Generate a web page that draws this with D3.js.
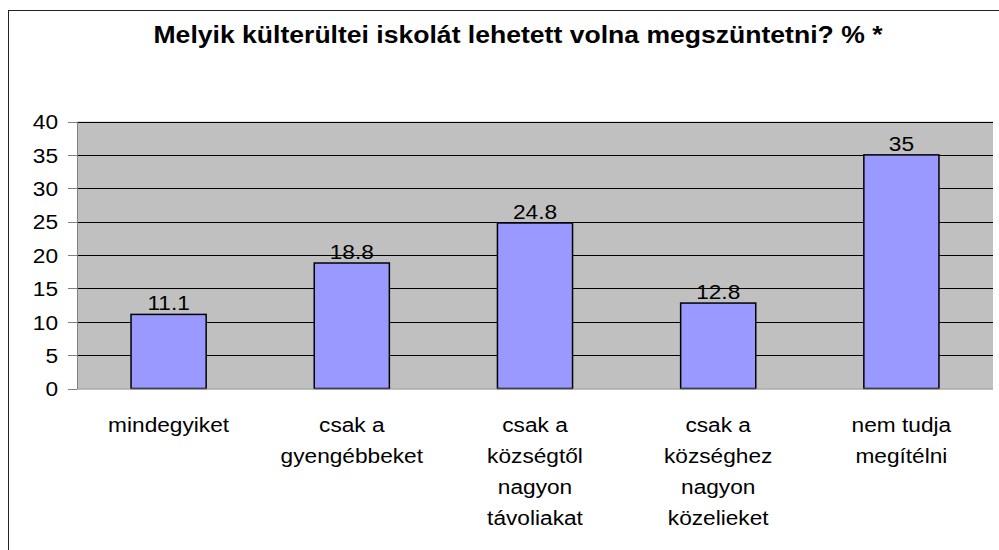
<!DOCTYPE html>
<html>
<head>
<meta charset="utf-8">
<script src="https://cdn.jsdelivr.net/npm/d3@7"></script>
<style>
  body { margin: 0; background: #fff; }
  svg text { font-family: "Liberation Sans", Arial, sans-serif; fill: #000; }
  .axis path, .axis line { stroke: #808080; shape-rendering: crispEdges; }
  .grid line { stroke: #000; shape-rendering: crispEdges; }
</style>
</head>
<body>
<svg id="chart" width="999" height="550"></svg>
<script>
var title = "Melyik külterültei iskolát lehetett volna megszüntetni? % *";
var categories = [
  ["mindegyiket"],
  ["csak a", "gyengébbeket"],
  ["csak a", "községtől", "nagyon", "távoliakat"],
  ["csak a", "községhez", "nagyon", "közelieket"],
  ["nem tudja", "megítélni"]
];
var values = [11.1, 18.8, 24.8, 12.8, 35];
var yTicks = [0, 5, 10, 15, 20, 25, 30, 35, 40];

var margin = {top: 121.5, left: 77, right: 6, bottom: 161.5};
var width = 999 - margin.left - margin.right;
var height = 550 - margin.top - margin.bottom;
var sx = 1.08; // the original text is stretched sideways

var svg = d3.select("#chart");

// outer chart frame (runs off the right and bottom of the picture)
svg.append("rect")
  .attr("x", 8.5).attr("y", 10.5)
  .attr("width", 1100).attr("height", 700)
  .attr("fill", "#fff").attr("stroke", "#222").attr("stroke-width", 1);

svg.append("text")
  .attr("x", 518).attr("y", 43)
  .attr("text-anchor", "middle")
  .attr("font-weight", "bold")
  .attr("font-size", 23)
  .attr("textLength", 729)
  .attr("lengthAdjust", "spacingAndGlyphs")
  .text(title);

var g = svg.append("g")
  .attr("transform", "translate(" + margin.left + "," + margin.top + ")");

var x = d3.scaleBand()
  .domain(d3.range(values.length))
  .range([0, width])
  .paddingInner(0.59)
  .paddingOuter(0.295);

var y = d3.scaleLinear()
  .domain([0, 40])
  .range([height, 0]);

g.append("rect")
  .attr("width", width).attr("height", height)
  .attr("fill", "#c0c0c0");

g.append("g")
  .attr("class", "grid")
  .selectAll("line")
  .data(yTicks.slice(1))
  .enter().append("line")
  .attr("x1", 0).attr("x2", width)
  .attr("y1", function (d) { return y(d) + 0.5; })
  .attr("y2", function (d) { return y(d) + 0.5; });

g.selectAll(".bar")
  .data(values)
  .enter().append("rect")
  .attr("class", "bar")
  .attr("x", function (d, i) { return x(i); })
  .attr("y", function (d) { return y(d); })
  .attr("width", x.bandwidth())
  .attr("height", function (d) { return height - y(d); })
  .attr("fill", "#9999ff")
  .attr("stroke", "#000")
  .attr("stroke-width", 1.5);

// value labels
g.selectAll(".val")
  .data(values)
  .enter().append("text")
  .attr("class", "val")
  .attr("transform", function (d, i) {
    return "translate(" + (x(i) + x.bandwidth() / 2) + "," + (y(d) - 4) + ") scale(" + sx + ",1)";
  })
  .attr("text-anchor", "middle")
  .attr("font-size", 21)
  .text(function (d) { return d; });

// y axis
var yAxis = g.append("g")
  .attr("class", "axis")
  .call(d3.axisLeft(y).tickValues(yTicks).tickSize(9).tickPadding(10));
yAxis.select(".domain").attr("d", "M0.5," + (height + 0.5) + "V0.5");
yAxis.selectAll("text").remove();
yAxis.selectAll(".tick").append("text")
  .attr("transform", "translate(-19,0) scale(" + sx + ",1)")
  .attr("dy", "0.35em")
  .attr("text-anchor", "end")
  .attr("font-size", 21)
  .text(function (d) { return d; });

// x axis line
g.append("line")
  .attr("x1", 0).attr("x2", width)
  .attr("y1", height + 0.5).attr("y2", height + 0.5)
  .attr("stroke", "#808080");

// category labels
var cat = g.selectAll(".cat")
  .data(categories)
  .enter().append("g")
  .attr("class", "cat")
  .attr("transform", function (d, i) {
    return "translate(" + (x(i) + x.bandwidth() / 2) + "," + (height + 43.5) + ") scale(" + sx + ",1)";
  });
cat.selectAll("text")
  .data(function (d) { return d; })
  .enter().append("text")
  .attr("y", function (d, j) { return j * 31; })
  .attr("text-anchor", "middle")
  .attr("font-size", 21)
  .text(function (d) { return d; });
</script>
</body>
</html>
